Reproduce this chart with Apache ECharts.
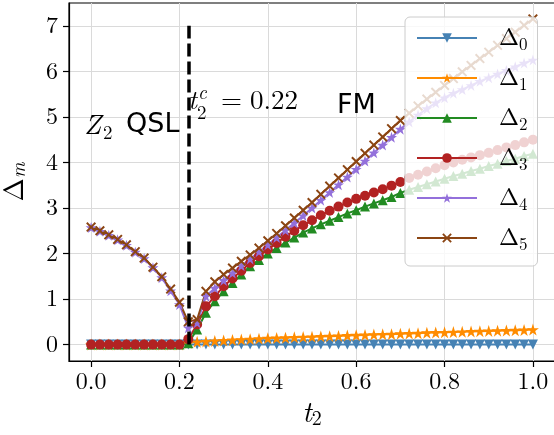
<!DOCTYPE html>
<html><head><meta charset="utf-8">
<script src="https://cdn.jsdelivr.net/npm/echarts@6/dist/echarts.min.js"></script>
<style>html,body{margin:0;padding:0;background:#fff}#c{width:554px;height:435px}</style>
</head><body><div id="c"></div>
<script>
// ---------------- data ----------------
const t2 = [0.00,0.02,0.04,0.06,0.08,0.10,0.12,0.14,0.16,0.18,0.20,0.22,0.24,0.26,0.28,0.30,0.32,0.34,0.36,0.38,0.40,0.42,0.44,0.46,0.48,0.50,0.52,0.54,0.56,0.58,0.60,0.62,0.64,0.66,0.68,0.70,0.72,0.74,0.76,0.78,0.80,0.82,0.84,0.86,0.88,0.90,0.92,0.94,0.96,0.98,1.00];
const delta0 = [0,0,0,0,0,0,0,0,0,0,0,0,0,0,0,0,0,0,0,0,0,0,0,0,0,0,0,0,0,0,0,0,0,0,0,0,0,0,0,0,0,0,0,0,0,0,0,0,0,0,0];
const delta1 = [0,0,0,0,0,0,0,0,0,0,0,0.04,0.06,0.07,0.08,0.09,0.10,0.11,0.12,0.13,0.14,0.145,0.15,0.16,0.165,0.17,0.18,0.185,0.19,0.20,0.205,0.21,0.22,0.225,0.23,0.24,0.245,0.25,0.26,0.265,0.27,0.275,0.28,0.29,0.295,0.30,0.305,0.31,0.315,0.32,0.33];
const delta2 = [0,0,0,0,0,0,0,0,0,0,0,0.03,0.33,0.70,0.95,1.17,1.35,1.54,1.72,1.86,2.00,2.12,2.24,2.35,2.46,2.55,2.64,2.72,2.80,2.88,2.95,3.03,3.10,3.17,3.24,3.33,3.40,3.46,3.52,3.58,3.64,3.70,3.75,3.81,3.86,3.92,3.97,4.03,4.08,4.14,4.19];
const delta3 = [0,0,0,0,0,0,0,0,0,0,0,0.12,0.44,0.84,1.06,1.28,1.45,1.62,1.79,1.94,2.09,2.23,2.37,2.50,2.62,2.73,2.84,2.94,3.03,3.12,3.20,3.27,3.34,3.41,3.49,3.57,3.66,3.73,3.80,3.87,3.94,4.00,4.06,4.11,4.16,4.21,4.27,4.33,4.38,4.44,4.50];
const delta4 = [2.57,2.49,2.40,2.30,2.18,2.03,1.89,1.69,1.47,1.18,0.88,0.37,0.48,1.06,1.24,1.41,1.57,1.73,1.88,2.04,2.19,2.35,2.51,2.67,2.83,3.00,3.17,3.34,3.51,3.68,3.85,4.03,4.21,4.38,4.55,4.73,4.89,5.04,5.18,5.31,5.42,5.52,5.60,5.69,5.78,5.86,5.94,6.02,6.10,6.18,6.25];
const delta5 = [2.58,2.50,2.41,2.31,2.19,2.04,1.90,1.70,1.49,1.22,0.93,0.50,0.55,1.17,1.38,1.54,1.68,1.83,1.97,2.12,2.28,2.44,2.61,2.78,2.95,3.12,3.30,3.48,3.66,3.84,4.02,4.20,4.38,4.56,4.74,4.92,5.08,5.24,5.39,5.54,5.69,5.84,5.99,6.13,6.28,6.42,6.57,6.72,6.86,7.01,7.15];
const seriesNames = ['Δ0','Δ1','Δ2','Δ3','Δ4','Δ5'];
const xTicks = [0.0,0.2,0.4,0.6,0.8,1.0];
const yTicks = [0,1,2,3,4,5,6,7];
const tCritical = 0.22;
const dashRange = [0,7];

// ---------------- style ----------------
const SERIF = "'Latin Modern Roman', 'Liberation Serif', serif";
const SANS = "'DejaVu Sans', sans-serif";
const STAR = 'path://M50,0L61.2,34.5L97.6,34.5L68.2,55.9L79.4,90.5L50,69.1L20.6,90.5L31.8,55.9L2.4,34.5L38.8,34.5Z';
const XMARK = 'path://M0,14L14,0L50,36L86,0L100,14L64,50L100,86L86,100L50,64L14,100L0,86L36,50Z';
const looks = [
  {color:'#4682b4', symbol:'triangle', rotate:180, size:10},
  {color:'#ff8c00', symbol:STAR, rotate:0, size:12},
  {color:'#228b22', symbol:'triangle', rotate:0, size:10},
  {color:'#b22222', symbol:'circle', rotate:0, size:10},
  {color:'#9370db', symbol:STAR, rotate:0, size:11},
  {color:'#8b4513', symbol:XMARK, rotate:0, size:10}
];
const values = [delta0,delta1,delta2,delta3,delta4,delta5];

const series = values.map((v,i)=>({
  type:'line', name:seriesNames[i],
  data: t2.map((x,j)=>[x, v[j]]),
  symbol: looks[i].symbol, symbolSize: looks[i].size, symbolRotate: looks[i].rotate,
  showAllSymbol: true,
  lineStyle:{width:2, color:looks[i].color},
  itemStyle:{color:looks[i].color},
  emphasis:{disabled:true},
  animation:false
}));
series[0].markLine = {
  silent:true, symbol:'none', animation:false,
  label:{show:false},
  lineStyle:{type:[13,5], color:'#000', width:3.5},
  data:[[{coord:[tCritical,dashRange[0]]},{coord:[tCritical,dashRange[1]]}]]
};

function txt(x,y,text,font){
  return {type:'text', x:x, y:y, z:100, silent:true,
    style:{text:text, font:font, fill:'#000', align:'left', verticalAlign:'middle', textAlign:'left', textVerticalAlign:'middle'}};
}

const chart = echarts.init(document.getElementById('c'), null, {renderer:'canvas'});
chart.setOption({
  animation:false,
  backgroundColor:'#fff',
  grid:{left:69, right:-1, top:3, bottom:74, show:true, borderColor:'#000', borderWidth:1.2, backgroundColor:'transparent',
        containLabel:false, outerBoundsMode:'none'},
  xAxis:{type:'value', min:-0.05, max:1.05, minInterval:0.2, maxInterval:0.2,
    name:'{t|t}{s|2}', nameLocation:'middle', nameGap:35,
    nameTextStyle:{color:'#000', rich:{
      t:{fontFamily:SERIF, fontStyle:'italic', fontSize:29, lineHeight:30},
      s:{fontFamily:SERIF, fontSize:20, lineHeight:19, verticalAlign:'bottom'}}},
    axisLine:{show:true, onZero:false, lineStyle:{color:'#000', width:1.2}},
    axisTick:{show:true, inside:false, length:6, customValues:xTicks, lineStyle:{color:'#000', width:1.2}},
    axisLabel:{customValues:xTicks, formatter:v=>Number(v).toFixed(1), fontFamily:SERIF, fontSize:24, color:'#000', margin:9},
    splitLine:{show:true, lineStyle:{color:'#dadada', width:1}}},
  yAxis:{type:'value', min:-0.36, max:7.5, minInterval:1, maxInterval:1,
    name:'{d|Δ}{s|m}', nameLocation:'middle', nameGap:40, nameRotate:90,
    nameTextStyle:{color:'#000', rich:{
      d:{fontFamily:SERIF, fontSize:28, lineHeight:30},
      s:{fontFamily:SERIF, fontStyle:'italic', fontSize:19, lineHeight:19, verticalAlign:'bottom'}}},
    axisLine:{show:true, onZero:false, lineStyle:{color:'#000', width:1.2}},
    axisTick:{show:true, inside:false, length:6, customValues:yTicks, lineStyle:{color:'#000', width:1.2}},
    axisLabel:{customValues:yTicks, formatter:v=>String(v), fontFamily:SERIF, fontSize:24, color:'#000', margin:11},
    splitLine:{show:true, lineStyle:{color:'#dadada', width:1}}},
  legend:{show:true, orient:'vertical', left:405, top:17, selectedMode:false,
    data:seriesNames, itemWidth:60, itemHeight:12, itemGap:13,
    padding:[9,10,13,11],
    backgroundColor:'rgba(255,255,255,0.8)', borderColor:'#cccccc', borderWidth:1, borderRadius:5,
    formatter: n => '{d|Δ}{s|'+n.slice(1)+'}',
    textStyle:{color:'#000', rich:{
      d:{fontFamily:SERIF, fontSize:24, lineHeight:30, padding:[0,0,0,17]},
      s:{fontFamily:SERIF, fontSize:17, lineHeight:17, verticalAlign:'bottom'}
    }}},
  series: series,
  graphic:[
    txt(84,125,'Z','italic 28px '+SERIF),
    txt(103,133,'2','19px '+SERIF),
    txt(126,125,'QSL','27px '+SANS),
    txt(188,101,'t','italic 27px '+SERIF),
    txt(198,93,'c','italic 19px '+SERIF),
    txt(197,113,'2','19px '+SERIF),
    txt(221,101,'=','27px '+SERIF),
    txt(250,101,'0.22','27px '+SERIF),
    txt(337,106,'FM','27px '+SANS)
  ]
});
</script></body></html>
